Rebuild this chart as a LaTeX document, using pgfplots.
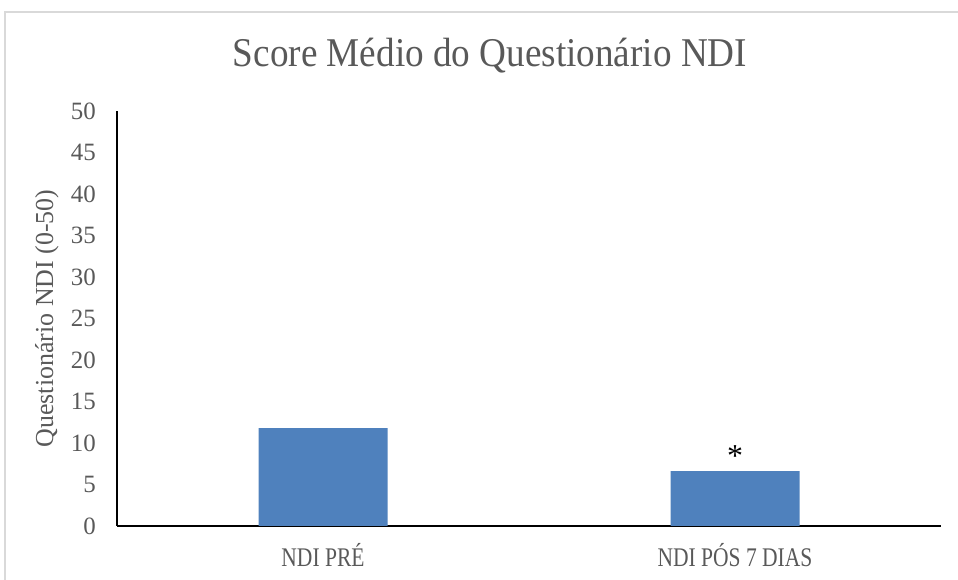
\documentclass[border=0pt]{standalone}
\usepackage{fontspec}
\setmainfont{Liberation Serif}
\usepackage{pgfplots}
\pgfplotsset{compat=1.18}
\definecolor{barblue}{HTML}{4F81BD}
\definecolor{txtgray}{HTML}{595959}
\definecolor{framegray}{HTML}{D9D9D9}
\begin{document}
\begin{tikzpicture}[x=1bp,y=1bp]
\begin{axis}[
  at={(117bp,54bp)}, anchor=south west,
  scale only axis,
  width=824bp, height=415bp,
  xmin=-0.5, xmax=1.5,
  ymin=0, ymax=50,
  ytick={0,5,...,50},
  xtick={0,1},
  xticklabels={NDI PRÉ, NDI PÓS 7 DIAS},
  axis x line*=bottom, axis y line*=left,
  axis line style={line width=1.5bp, black, -},
  major tick length=0pt,
  /pgf/number format/assume math mode=true,
  yticklabel style={font=\fontsize{25}{29}\selectfont, text=txtgray, anchor=east, inner sep=0pt, xshift=-21bp},
  xticklabel style={font=\fontsize{27}{31}\selectfont, text=txtgray, anchor=base, inner sep=0pt, yshift=-40bp, xscale=0.8},
  title={Score Médio do Questionário NDI},
  title style={font=\fontsize{41}{47}\selectfont, text=txtgray, at={(axis description cs:0.4527,1.092)}, anchor=base, inner sep=0pt, xscale=0.91},
  ylabel={Questionário NDI (0-50)},
  every axis y label/.style={at={(axis description cs:-0.085,0.5)}, rotate=90, anchor=center, font=\fontsize{26}{30}\selectfont, text=txtgray},
  clip=false,
]
\addplot[ybar, bar width=129bp, fill=barblue, draw=none] coordinates {(0,11.8) (1,6.6)};
\node[anchor=base, font=\fontsize{32}{36}\selectfont, inner sep=0pt] at (axis cs:1,7.2) {*};
\end{axis}
\draw[framegray, line width=1.2bp] (5bp,0bp) -- (5bp,568bp) -- (958bp,568bp);
\pgfresetboundingbox
\path (0,0) rectangle (958bp,580bp);
\end{tikzpicture}
\end{document}
